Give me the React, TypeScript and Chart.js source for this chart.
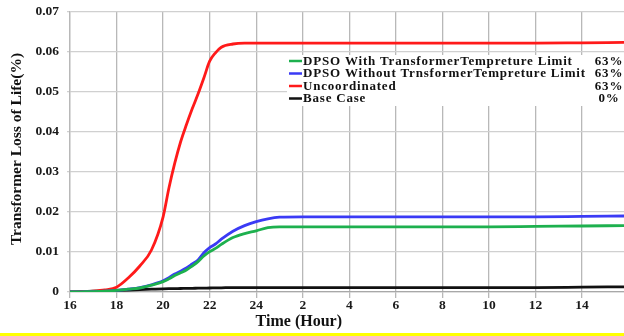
import React, { useEffect, useRef } from "react";
import { Chart, registerables } from "chart.js";

Chart.register(...registerables);

const hours = [16, 16.5, 17, 17.5, 18, 18.5, 19, 19.5, 20, 20.25, 20.5, 20.75, 21, 21.25, 21.5, 21.75, 22, 22.25, 22.5, 23, 23.5, 24, 24.5, 25, 26, 28, 30, 32, 34, 36, 38, 39.8];

const withLimit = [0, 0.00005, 0.0001, 0.0002, 0.0004, 0.0007, 0.001, 0.0017, 0.0026, 0.0033, 0.0041, 0.0048, 0.0055, 0.0065, 0.0076, 0.009, 0.0101, 0.0109, 0.0119, 0.0136, 0.0146, 0.0153, 0.0161, 0.0163, 0.0163, 0.0163, 0.0163, 0.0163, 0.0163, 0.0164, 0.0165, 0.0166];
const withoutLimit = [0, 0.00005, 0.0001, 0.0002, 0.0004, 0.0007, 0.0011, 0.0018, 0.0028, 0.0036, 0.0045, 0.0052, 0.006, 0.007, 0.008, 0.0098, 0.0111, 0.012, 0.0132, 0.0152, 0.0166, 0.0176, 0.0183, 0.0187, 0.0188, 0.0188, 0.0188, 0.0188, 0.0188, 0.0188, 0.0189, 0.019];
const uncoordinated = [0, 0.0001, 0.0002, 0.0005, 0.0012, 0.0035, 0.0065, 0.0105, 0.0188, 0.026, 0.0322, 0.0375, 0.0418, 0.0458, 0.0495, 0.0535, 0.0577, 0.0598, 0.0612, 0.062, 0.0622, 0.0622, 0.0622, 0.0622, 0.0622, 0.0622, 0.0622, 0.0622, 0.0622, 0.0622, 0.0623, 0.0624];
const baseCase = [0, 0.0001, 0.0002, 0.0003, 0.0004, 0.0005, 0.0006, 0.0007, 0.0008, 0.00083, 0.00085, 0.00088, 0.0009, 0.00093, 0.00095, 0.00098, 0.001, 0.00103, 0.00105, 0.0011, 0.0011, 0.0011, 0.0011, 0.0011, 0.0011, 0.0011, 0.0011, 0.0011, 0.0011, 0.0011, 0.0012, 0.0013];

const seriesNames = [
  "DPSO With TransformerTempreture Limit",
  "DPSO Without TrnsformerTempreture Limit",
  "Uncoordinated",
  "Base Case",
];
const seriesPercents = ["63%", "63%", "63%", "0%"];
const seriesColors = ["#1db04e", "#3a3af5", "#ff1a1a", "#111111"];
const seriesData = [withLimit, withoutLimit, uncoordinated, baseCase];

const xTitle = "Time (Hour)";
const yTitle = "Transformer Loss of Life(%)";

const SERIF = "'Liberation Serif', 'Times New Roman', serif";

const overlayPlugin = {
  id: "overlay",
  afterDatasetsDraw(chart: any) {
    const ctx = chart.ctx as CanvasRenderingContext2D;
    const a = chart.chartArea;
    ctx.save();
    // legend box
    const boxLeft = a.right - 337;
    const boxTop = a.top + 43;
    ctx.fillStyle = "#ffffff";
    ctx.fillRect(boxLeft, boxTop, a.right - boxLeft, 51);
    const rowH = 12.5;
    seriesNames.forEach((name, i) => {
      const cy = boxTop + 6 + i * rowH;
      ctx.strokeStyle = seriesColors[i];
      ctx.lineWidth = 2.5;
      ctx.beginPath();
      ctx.moveTo(boxLeft + 2, cy);
      ctx.lineTo(boxLeft + 15, cy);
      ctx.stroke();
      ctx.fillStyle = "#111111";
      ctx.font = `bold 13px ${SERIF}`;
      (ctx as any).letterSpacing = "0.8px";
      ctx.textBaseline = "middle";
      ctx.textAlign = "left";
      ctx.fillText(name, boxLeft + 16, cy + 0.5);
      ctx.textAlign = "center";
      ctx.fillText(seriesPercents[i], a.right - 15, cy + 0.5);
    });
    (ctx as any).letterSpacing = "0px";
    // axis titles
    ctx.fillStyle = "#111111";
    ctx.font = `bold 16px ${SERIF}`;
    ctx.textAlign = "center";
    ctx.textBaseline = "middle";
    ctx.fillText(xTitle, a.left + 0.413 * (a.right - a.left), a.bottom + 30);
    ctx.save();
    ctx.translate(17, (a.top + a.bottom) / 2 - 3);
    ctx.rotate(-Math.PI / 2);
    ctx.font = `bold 15.5px ${SERIF}`;
    ctx.fillText(yTitle, 0, 0);
    ctx.restore();
    ctx.restore();
  },
};

export default function App() {
  const ref = useRef<HTMLCanvasElement>(null);
  useEffect(() => {
    if (!ref.current) return;
    const chart = new Chart(ref.current, {
      type: "line",
      data: {
        labels: hours,
        datasets: seriesNames.map((name, i) => ({
          label: name,
          data: hours.map((h, j) => ({ x: h, y: seriesData[i][j] })),
          borderColor: seriesColors[i],
          borderWidth: 2.8,
          pointRadius: 0,
          cubicInterpolationMode: "monotone" as const,
          fill: false,
        })),
      },
      options: {
        animation: false,
        responsive: false,
        layout: { padding: { top: 12, right: 0, left: 0, bottom: 0 } },
        plugins: { legend: { display: false }, tooltip: { enabled: false } },
        scales: {
          x: {
            type: "linear",
            min: 16,
            max: 39.8,
            afterFit: (s: any) => {
              s.height = 41;
            },
            ticks: {
              stepSize: 2,
              includeBounds: false,
              maxRotation: 0,
              autoSkip: false,
              padding: 1,
              color: "#1a1a1a",
              font: { family: SERIF, size: 13.5, weight: "bold", lineHeight: 1 },
              callback: (v: any) => {
                const n = Number(v);
                return String(n > 24 ? n - 24 : n);
              },
            },
            grid: { color: "#b8b8b8", lineWidth: 1.3, tickLength: 6 },
            border: { color: "#a8a8a8", width: 1.3 },
          },
          y: {
            min: 0,
            max: 0.07,
            afterFit: (s: any) => {
              s.width = 70;
              s.paddingTop = 0;
              s.paddingBottom = 0;
            },
            ticks: {
              stepSize: 0.01,
              padding: 8,
              color: "#1a1a1a",
              font: { family: SERIF, size: 13.5, weight: "bold", lineHeight: 1 },
              callback: (v: any) => {
                const n = Number(v);
                return n === 0 ? "0" : n.toFixed(2);
              },
            },
            grid: { color: "#d0d0d0", lineWidth: 1.3, tickLength: 3 },
            border: { color: "#b8b8b8", width: 1.3 },
          },
        },
      },
      plugins: [overlayPlugin],
    });
    return () => chart.destroy();
  }, []);
  return (
    <div style={{ position: "fixed", left: 0, top: 0, width: 624, height: 336, background: "#ffffff" }}>
      <canvas ref={ref} width={624} height={333} style={{ display: "block", width: 624, height: 333 }} />
      <div style={{ width: 624, height: 3, background: "#ffff00" }} />
    </div>
  );
}
